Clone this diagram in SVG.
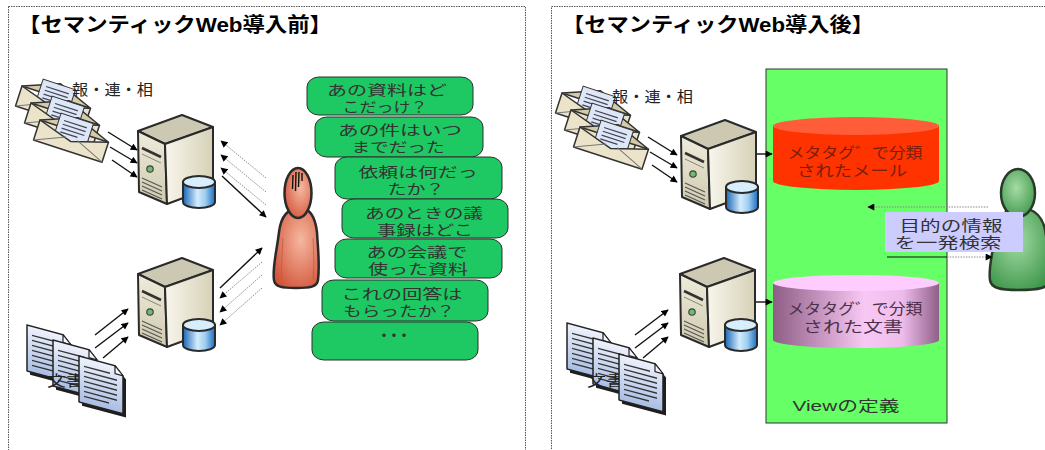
<svg xmlns="http://www.w3.org/2000/svg" width="1045" height="450" viewBox="0 0 1045 450">
<style>
  text{font-family:"Liberation Sans","Noto Sans CJK JP",sans-serif;}
  .ttl{font-size:20px;font-weight:bold;fill:#000;}
  .lbl{font-size:15px;fill:#222;}
  .bub{fill:#1ec863;stroke:#2e2e2e;stroke-width:1;}
  .bt{font-size:14px;fill:#333;text-anchor:middle;}
  .mid{text-anchor:middle;}
  .frame{fill:none;stroke:#555;stroke-width:1;stroke-dasharray:1.5 1;}
  .ar{stroke:#111;stroke-width:1.4;fill:none;marker-end:url(#ah);}
  .ard{stroke:#888;stroke-width:1;stroke-dasharray:1.5 1.2;fill:none;marker-end:url(#ah);}
  .ol{stroke:#2a2a2a;stroke-width:2;stroke-linejoin:round;}
  .eo{stroke:#333;stroke-width:1.5;stroke-linejoin:round;}
</style>
<defs>
  <marker id="ah" viewBox="0 0 10 10" refX="9" refY="5" markerWidth="8" markerHeight="7" markerUnits="userSpaceOnUse" orient="auto">
    <path d="M0,0 L10,5 L0,10 Z" fill="#000"/>
  </marker>
  <linearGradient id="gFront" x1="0" y1="0" x2="0" y2="1">
    <stop offset="0" stop-color="#efecdc"/><stop offset="1" stop-color="#cfc9ae"/>
  </linearGradient>
  <linearGradient id="gSide" x1="0" y1="0" x2="1" y2="0">
    <stop offset="0" stop-color="#f8f6ec"/><stop offset="1" stop-color="#d6d1b7"/>
  </linearGradient>
  <linearGradient id="gDb" x1="0" y1="0" x2="1" y2="0">
    <stop offset="0" stop-color="#1766b6"/><stop offset="0.45" stop-color="#d3ecfc"/>
    <stop offset="0.7" stop-color="#9dcdf1"/><stop offset="1" stop-color="#1a6cc0"/>
  </linearGradient>
  <linearGradient id="gDoc" x1="0" y1="0" x2="0" y2="1">
    <stop offset="0" stop-color="#eef2fb"/><stop offset="1" stop-color="#a9bde3"/>
  </linearGradient>
  <radialGradient id="gRed" cx="0.6" cy="0.4" r="0.7">
    <stop offset="0" stop-color="#f6b8a0"/><stop offset="1" stop-color="#d2553a"/>
  </radialGradient>
  <radialGradient id="gGreen" cx="0.45" cy="0.4" r="0.7">
    <stop offset="0" stop-color="#a4dba4"/><stop offset="1" stop-color="#3a9447"/>
  </radialGradient>
  <linearGradient id="gPink" x1="0" y1="0" x2="1" y2="0">
    <stop offset="0" stop-color="#8e5e86"/><stop offset="0.55" stop-color="#f8c8f4"/>
    <stop offset="0.78" stop-color="#eebcea"/><stop offset="1" stop-color="#8f5f89"/>
  </linearGradient>

  <!-- tower server with database drum -->
  <g id="server">
    <polygon class="ol" points="0,16 44,0 75,12 27,29" fill="#cdc8b1"/>
    <polygon class="ol" points="0,16 27,29 29,89 1,77" fill="url(#gFront)"/>
    <polygon class="ol" points="27,29 75,12 75,72 29,89" fill="url(#gSide)"/>
    <path d="M4,33 L23,42" stroke="#333" stroke-width="2.5"/>
    <path d="M4,39 L23,48" stroke="#8a8670" stroke-width="1"/>
    <circle cx="12" cy="54" r="3.2" fill="#6bbf6b" stroke="#444" stroke-width="1.2"/>
    <path d="M4,63 L24,72 M4,67 L24,76 M4,71 L24,80 M4,75 L24,84" stroke="#555" stroke-width="1.1"/>
    <path class="ol" d="M45,67 V87 A16,6 0 0 0 77,87 V67 Z" fill="url(#gDb)"/>
    <ellipse class="ol" cx="61" cy="67" rx="16" ry="6" fill="#d7eefc"/>
  </g>

  <!-- mail envelope with a letter inside -->
  <g id="env">
    <polygon class="eo" points="0,0 36,-14 72,0" fill="#d4cba9"/>
    <rect x="18" y="-13" width="34" height="26" fill="#dde7f8" stroke="#333" stroke-width="1"/>
    <path d="M23,-7 H47 M23,-3 H47 M23,1 H47 M23,5 H41" stroke="#445" stroke-width="1.2"/>
    <polygon class="eo" points="0,0 36,11 72,0 72,21 0,21" fill="#ebe4ca"/>
    <path d="M0,21 L30,8 M72,21 L42,8" stroke="#777" stroke-width="1" fill="none"/>
  </g>

  <!-- text document sheet -->
  <g id="doc">
    <path d="M3,3 H39 L47,11 V49 H3 Z" fill="#1e1e1e"/>
    <path d="M0,0 H36 L44,8 V46 H0 Z" fill="url(#gDoc)" stroke="#222" stroke-width="1.5" stroke-linejoin="round"/>
    <polygon points="36,0 36,8 44,8" fill="#f4f6fb" stroke="#222" stroke-width="1.2" stroke-linejoin="round"/>
    <path d="M5,9 H31 M5,14 H38 M5,19 H38 M5,24 H38 M5,29 H38 M5,34 H38 M5,39 H30" stroke="#333" stroke-width="1.4"/>
  </g>
</defs>

<rect width="1045" height="450" fill="#fff"/>

<!-- panel frames -->
<rect class="frame" x="8.5" y="6.5" width="517" height="470"/>
<rect class="frame" x="551.5" y="6.5" width="520" height="470"/>

<text class="ttl" x="18" y="32" textLength="314" lengthAdjust="spacingAndGlyphs">【セマンティックWeb導入前】</text>
<text class="ttl" x="562" y="32" textLength="312" lengthAdjust="spacingAndGlyphs">【セマンティックWeb導入後】</text>

<!-- ===== before ===== -->
<g id="mails-before">
  <use href="#env" transform="translate(22,86) rotate(18)"/>
  <use href="#env" transform="translate(31,103) rotate(18)"/>
  <use href="#env" transform="translate(40,120) rotate(18)"/>
  <text class="lbl" x="72" y="95" textLength="81" lengthAdjust="spacingAndGlyphs">報・連・相</text>
</g>

<g id="server-mail-before"><use href="#server" x="138" y="115"/></g>
<g id="server-doc-before"><use href="#server" x="138" y="258"/></g>

<g id="docs-before">
  <use href="#doc" transform="translate(27,325) skewY(15)"/>
  <use href="#doc" transform="translate(53,340) skewY(15)"/>
  <text class="lbl" x="47" y="386" font-size="16" textLength="38" lengthAdjust="spacingAndGlyphs">文書</text>
  <use href="#doc" transform="translate(79,356) skewY(15)"/>
</g>

<g id="user-before">
  <path d="M300,208 C288,208 281,216 279,232 C277,250 272,268 274,280 C275,287 282,288 296,288 C310,288 317,287 318,280 C320,265 318,250 317,232 C315,216 310,208 300,208 Z" fill="url(#gRed)" stroke="#2a2a2a" stroke-width="2.5"/>
  <path d="M283,238 C282,255 281,268 282,280 M313,238 C314,255 314,268 313,280" stroke="#b5533a" stroke-width="1" fill="none" opacity="0.6"/>
  <ellipse cx="298" cy="193" rx="13.5" ry="25" fill="url(#gRed)" stroke="#2a2a2a" stroke-width="2.5"/>
  <path d="M293,175 L292.5,189 M296,172 L295.5,191 M299,172 L298.5,187 M302,173 L302,181" stroke="#111" stroke-width="1.4"/>
</g>

<g id="questions">
  <rect class="bub" x="307" y="77" width="166" height="38" rx="12" ry="10"/>
  <text class="bt"><tspan x="387" y="95" textLength="120" lengthAdjust="spacingAndGlyphs">あの資料はど</tspan><tspan x="385" y="112" textLength="85" lengthAdjust="spacingAndGlyphs">こだっけ？</tspan></text>

  <rect class="bub" x="315" y="117" width="168" height="40" rx="12" ry="10"/>
  <text class="bt"><tspan x="400" y="135" textLength="124" lengthAdjust="spacingAndGlyphs">あの件はいつ</tspan><tspan x="398" y="152" textLength="93" lengthAdjust="spacingAndGlyphs">までだった</tspan></text>

  <rect class="bub" x="335" y="157" width="167" height="42" rx="12" ry="10"/>
  <text class="bt"><tspan x="418" y="177" textLength="119" lengthAdjust="spacingAndGlyphs">依頼は何だっ</tspan><tspan x="416" y="194" textLength="57" lengthAdjust="spacingAndGlyphs">たか？</tspan></text>

  <rect class="bub" x="342" y="199" width="166" height="39" rx="12" ry="10"/>
  <text class="bt"><tspan x="424" y="218" textLength="118" lengthAdjust="spacingAndGlyphs">あのときの議</tspan><tspan x="425" y="235" textLength="96" lengthAdjust="spacingAndGlyphs">事録はどこ</tspan></text>

  <rect class="bub" x="335" y="239" width="167" height="39" rx="12" ry="10"/>
  <text class="bt"><tspan x="417" y="257" textLength="101" lengthAdjust="spacingAndGlyphs">あの会議で</tspan><tspan x="418" y="274" textLength="100" lengthAdjust="spacingAndGlyphs">使った資料</tspan></text>

  <rect class="bub" x="322" y="280" width="166" height="41" rx="12" ry="10"/>
  <text class="bt"><tspan x="402" y="299" textLength="121" lengthAdjust="spacingAndGlyphs">これの回答は</tspan><tspan x="399" y="316" textLength="112" lengthAdjust="spacingAndGlyphs">もらったか？</tspan></text>

  <rect class="bub" x="312" y="322" width="166" height="38" rx="12" ry="10"/>
  <text x="376" y="341" font-size="16" letter-spacing="-6" fill="#333">・・・</text>
</g>

<!-- ===== after ===== -->
<g id="view-area">
  <rect x="766" y="69" width="181" height="354" fill="#66ff66" stroke="#333" stroke-width="1"/>
  <text class="mid" x="846" y="411" font-size="15" fill="#333" textLength="107" lengthAdjust="spacingAndGlyphs">Viewの定義</text>
</g>

<g id="mails-after">
  <use href="#env" transform="translate(562,93) rotate(18)"/>
  <use href="#env" transform="translate(571,110) rotate(18)"/>
  <use href="#env" transform="translate(580,127) rotate(18)"/>
  <text class="lbl" x="612" y="102" textLength="81" lengthAdjust="spacingAndGlyphs">報・連・相</text>
</g>

<g id="server-mail-after"><use href="#server" x="681" y="120"/></g>
<g id="server-doc-after"><use href="#server" x="680" y="258"/></g>

<g id="docs-after">
  <use href="#doc" transform="translate(567,323) skewY(15)"/>
  <use href="#doc" transform="translate(593,338) skewY(15)"/>
  <text class="lbl" x="587" y="386" font-size="16" textLength="38" lengthAdjust="spacingAndGlyphs">文書</text>
  <use href="#doc" transform="translate(619,354) skewY(15)"/>
</g>

<g id="tagged-mail">
  <path d="M773,126 V181 A83,9 0 0 0 939,181 V126 Z" fill="#ff3300"/>
  <ellipse cx="856" cy="126" rx="83" ry="9" fill="#ff5c3a"/>
  <text class="mid" font-size="15" fill="#7a1e0c"><tspan x="855" y="158" textLength="135" lengthAdjust="spacingAndGlyphs">メタタグ゛で分類</tspan><tspan x="852" y="176" textLength="110" lengthAdjust="spacingAndGlyphs">されたメール</tspan></text>
</g>

<g id="tagged-docs">
  <path d="M773,283 V340 A83,8 0 0 0 939,340 V283 Z" fill="url(#gPink)"/>
  <ellipse cx="856" cy="283" rx="83" ry="8" fill="#ffccff"/>
  <text class="mid" font-size="15" fill="#4a304a"><tspan x="855" y="314" textLength="135" lengthAdjust="spacingAndGlyphs">メタタグ゛で分類</tspan><tspan x="853" y="332" textLength="100" lengthAdjust="spacingAndGlyphs">された文書</tspan></text>
</g>

<g id="user-after">
  <path d="M1020,208 C1005,208 997,218 995,235 C993,252 988,268 990,280 C991,288 1000,290 1018,290 C1040,290 1048,288 1050,280 C1052,265 1048,250 1046,235 C1044,218 1035,208 1020,208 Z" fill="url(#gGreen)" stroke="#2a3a2a" stroke-width="2.5"/>
  <ellipse cx="1018" cy="193" rx="17" ry="24" fill="url(#gGreen)" stroke="#2a3a2a" stroke-width="2.5"/>
</g>

<g id="search-box">
  <rect x="885" y="212" width="138" height="40" fill="#ccccff"/>
  <text class="mid" font-size="14.5" fill="#333"><tspan x="951" y="231" textLength="103" lengthAdjust="spacingAndGlyphs">目的の情報</tspan><tspan x="948" y="248" textLength="107" lengthAdjust="spacingAndGlyphs">を一発検索</tspan></text>
</g>

<!-- connectors -->
<g id="connectors">
  <!-- before: mail into server -->
  <path class="ar" d="M108,132 L137,150"/>
  <path class="ar" d="M110,147 L137,163"/>
  <path class="ar" d="M112,160 L137,177"/>
  <!-- before: server 1 and user -->
  <path class="ard" d="M266,178 L221,141"/>
  <path class="ard" d="M266,192 L221,155"/>
  <path class="ard" d="M266,205 L221,168"/>
  <path class="ar" d="M222,176 L266,217"/>
  <!-- before: documents into server -->
  <path class="ar" d="M95,335 L128,309"/>
  <path class="ar" d="M95,348 L128,323"/>
  <path class="ar" d="M103,358 L128,337"/>
  <!-- before: server 2 and user -->
  <path class="ar" d="M220,288 L262,248"/>
  <path class="ard" d="M262,262 L220,298"/>
  <path class="ard" d="M262,275 L220,312"/>
  <path class="ard" d="M262,288 L220,325"/>

  <!-- after: mail into server -->
  <path class="ar" d="M648,137 L677,155"/>
  <path class="ar" d="M650,152 L677,168"/>
  <path class="ar" d="M652,165 L677,182"/>
  <!-- after: documents into server -->
  <path class="ar" d="M635,335 L668,310"/>
  <path class="ar" d="M635,348 L668,323"/>
  <path class="ar" d="M643,358 L668,337"/>
  <!-- after: servers into tagged stores -->
  <path class="ar" d="M757,154 L772,154"/>
  <path class="ar" d="M756,302 L772,302"/>
  <!-- after: query and result -->
  <path class="ard" d="M988,207 L868,207"/>
  <path d="M887,257 L947,257" stroke="#111" stroke-width="1.2"/>
  <path class="ard" d="M947,257 L992,257" stroke="#333"/>
</g>
</svg>
